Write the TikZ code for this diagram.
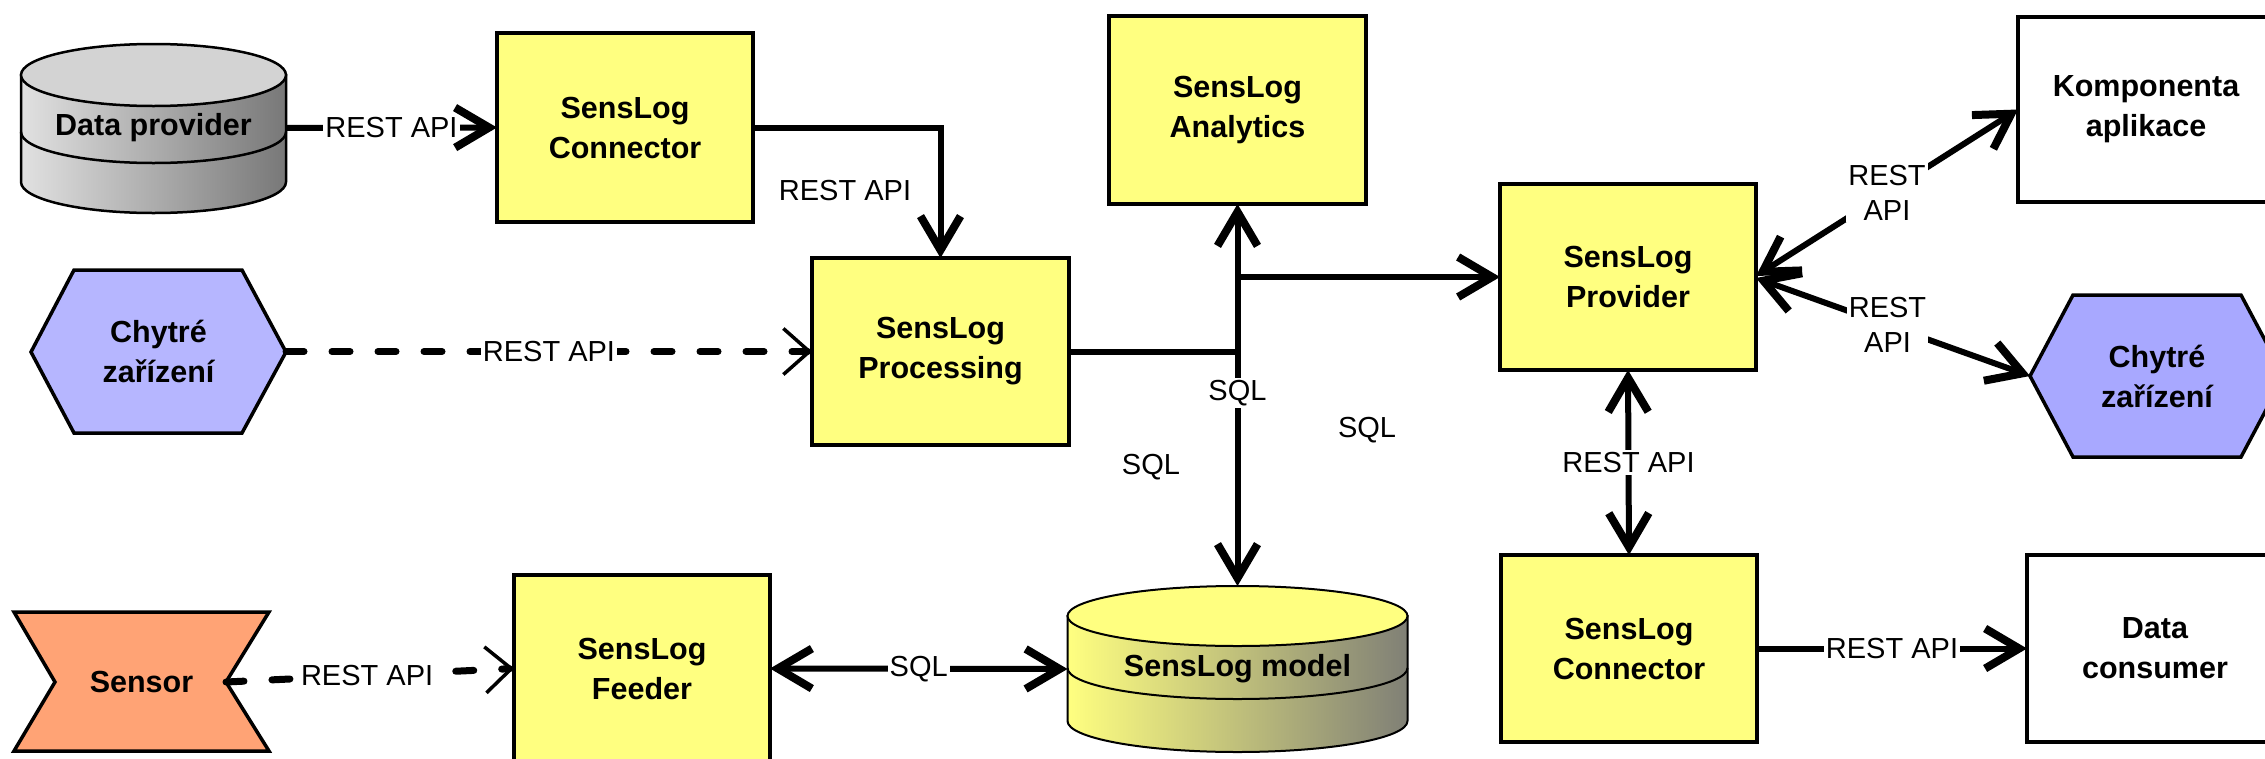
\documentclass[tikz,border=0pt]{standalone}
\usepackage{fontspec}
\setmainfont{Liberation Sans}
\usetikzlibrary{arrows.meta}
\definecolor{boxyellow}{RGB}{255,255,128}
\definecolor{hexLc}{RGB}{182,182,255}
\definecolor{hexRc}{RGB}{168,168,255}
\definecolor{sensorc}{RGB}{255,163,117}
\definecolor{dpleft}{RGB}{225,225,225}
\definecolor{dpright}{RGB}{120,120,120}
\definecolor{dptop}{RGB}{211,211,211}
\definecolor{mleft}{RGB}{255,255,128}
\definecolor{mright}{RGB}{128,128,118}
\tikzset{
  sbarb/.tip={Straight Barb[length=34pt,width=40pt,line width=8pt]},
  dbarb/.tip={Straight Barb[length=26pt,width=46pt,line width=3.5pt]},
}
\begin{document}
\begin{tikzpicture}[x=1pt,y=-1pt,
  every node/.style={outer sep=0pt, inner sep=0pt},
  boxtext/.style={font=\fontsize{30.5}{40}\selectfont\bfseries, align=center},
  labeltext/.style={font=\fontsize{29}{35}\selectfont, fill=white, inner sep=2pt, align=center},
  plainlabel/.style={font=\fontsize{29}{35}\selectfont},
  ybox/.style={boxtext, draw, line width=3.5pt, fill=boxyellow},
  wbox/.style={boxtext, draw, line width=3.5pt, fill=white},
  solidarrow/.style={line width=6pt, -sbarb},
  biarrow/.style={line width=6pt, sbarb-sbarb},
  dasharrow/.style={line width=7pt, dash pattern=on 18pt off 28pt, line cap=round, -dbarb},
]
\useasboundingbox (0,0) rectangle (2265,758);
\fill[white] (0,0) rectangle (2265,758);
\clip (0,0) rectangle (2265,758);

% Data provider cylinder
\path[draw, line width=2.5pt, left color=dpleft, right color=dpright]
  (21,75) -- (21,182) .. controls (21,199.1) and (80.3,213) .. (153.5,213)
  .. controls (226.7,213) and (286,199.1) .. (286,182) -- (286,75) -- cycle;
\draw[line width=2.5pt] (21,132) .. controls (21,149.1) and (80.3,163) .. (153.5,163)
  .. controls (226.7,163) and (286,149.1) .. (286,132);
\draw[line width=2.5pt, fill=dptop] (153.5,75) ellipse [x radius=132.5, y radius=31];
\node[boxtext, minimum width=265pt, minimum height=170pt] (dp) at (153.5,128) {Data provider};

% SensLog model cylinder
\path[draw, line width=2pt, left color=mleft, right color=mright]
  (1067.5,616) -- (1067.5,721) .. controls (1067.5,738.1) and (1143.6,752) .. (1237.5,752)
  .. controls (1331.4,752) and (1407.5,738.1) .. (1407.5,721) -- (1407.5,616) -- cycle;
\draw[line width=2pt] (1067.5,668) .. controls (1067.5,685.1) and (1143.6,699) .. (1237.5,699)
  .. controls (1331.4,699) and (1407.5,685.1) .. (1407.5,668);
\draw[line width=2pt, fill=boxyellow] (1237.5,616) ellipse [x radius=170, y radius=30];
\node[boxtext, minimum width=340pt, minimum height=166pt] (model) at (1237.5,669) {SensLog model};

% hexagons
\draw[line width=3.5pt, fill=hexLc, line join=miter] (31,352) -- (74,270) -- (242,270) -- (286,352) -- (242,433) -- (74,433) -- cycle;
\node[boxtext, minimum width=255pt, minimum height=163pt] (chL) at (158.5,351.5) {Chytré\\zařízení};
\draw[line width=3.5pt, fill=hexRc, line join=miter] (2030,376) -- (2073,295) -- (2241,295) -- (2284,376) -- (2241,457) -- (2073,457) -- cycle;
\node[boxtext, minimum width=254pt, minimum height=162pt] (chR) at (2157,376) {Chytré\\zařízení};

% sensor
\draw[line width=3.5pt, fill=sensorc, line join=miter] (14,612) -- (269,612) -- (226,682) -- (269,751) -- (14,751) -- (55,682) -- cycle;
\node[boxtext] (sensor) at (141.5,682) {Sensor};
\coordinate (sensR) at (226,682);

% boxes
\node[ybox, minimum width=256pt, minimum height=189pt] (conn1) at (625,127.5) {SensLog\\Connector};
\node[ybox, minimum width=257pt, minimum height=187pt] (proc) at (940.5,351.5) {SensLog\\Processing};
\node[ybox, minimum width=257pt, minimum height=188pt] (anal) at (1237.5,110) {SensLog\\Analytics};
\node[ybox, minimum width=256pt, minimum height=186pt] (prov) at (1628,277) {SensLog\\Provider};
\node[wbox, minimum width=256pt, minimum height=185pt] (komp) at (2146,109.5) {Komponenta\\aplikace};
\node[ybox, minimum width=256pt, minimum height=187pt] (conn2) at (1629,648.5) {SensLog\\Connector};
\node[wbox, minimum width=256pt, minimum height=187pt] (cons) at (2155,648.5) {Data\\consumer};
\node[ybox, minimum width=256pt, minimum height=187pt] (feed) at (642,668.5) {SensLog\\Feeder};

% connectors
\draw[solidarrow] (dp.east) -- node[labeltext]{REST API} (conn1.west);
\draw[solidarrow] (conn1.east) -| (proc.north);
\node[plainlabel] (lbl1) at (845,191) {REST API};
\draw[dasharrow] (chL.east) -- node[labeltext]{REST API} (proc.west);
\coordinate (j1) at (anal.south |- proc.east);
\coordinate (j2) at (anal.south |- prov.west);
\draw[line width=6pt] (proc.east) -- (j1);
\draw[solidarrow] (j1) -- (anal.south);
\draw[solidarrow] (j2) -- (prov.west);
\draw[solidarrow] (j1) -- node[labeltext, pos=0.177]{SQL} (model.north);
\draw[biarrow] ([yshift=1pt]prov.east) -- node[labeltext]{REST\\API} (komp.west);
\draw[biarrow] ([yshift=-1pt]prov.east) -- node[labeltext, pos=0.48]{REST\\API} (chR.west);
\draw[biarrow] (prov.south) -- node[labeltext]{REST API} (conn2.north);
\draw[solidarrow] (conn2.east) -- node[labeltext]{REST API} (cons.west);
\draw[dasharrow] (sensR) -- node[labeltext, pos=0.49]{REST API} (feed.west);
\draw[biarrow] (feed.east) -- node[labeltext]{SQL} (model.west);
\node[plainlabel] (sql2) at (1367,430) {SQL};
\node[plainlabel] (sql3) at (1151,467) {SQL};
\end{tikzpicture}
\end{document}
